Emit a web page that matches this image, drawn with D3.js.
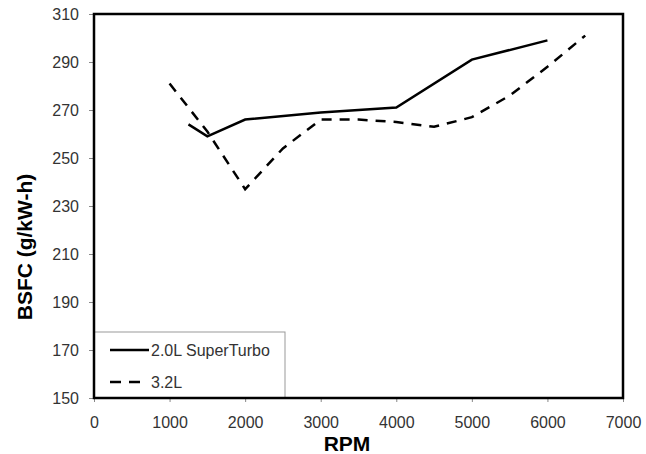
<!DOCTYPE html>
<html>
<head>
<meta charset="utf-8">
<script src="https://cdn.jsdelivr.net/npm/d3@7"></script>
<style>
  html, body { margin: 0; padding: 0; background: #fff; }
  svg { display: block; font-family: "Liberation Sans", Arial, sans-serif; }
</style>
</head>
<body>
<svg id="chart" width="646" height="454"></svg>
<script>
// Engine speed sample points and BSFC readings for each engine
const superTurboRpm = [1250, 1500, 2000, 3000, 4000, 5000, 6000];
const superTurboBsfc = [264, 259, 266, 269, 271, 291, 299];
const na32Rpm = [1000, 1500, 2000, 2500, 3000, 3500, 4000, 4500, 5000, 5500, 6000, 6500];
const na32Bsfc = [281, 261, 237, 254, 266, 266, 265, 263, 267, 276, 288, 301];

const seriesNames = ["2.0L SuperTurbo", "3.2L"];
const xTicks = [0, 1000, 2000, 3000, 4000, 5000, 6000, 7000];
const yTicks = [150, 170, 190, 210, 230, 250, 270, 290, 310];

const svg = d3.select("#chart");
const plot = { left: 94, right: 623, top: 14, bottom: 398 };

const x = d3.scaleLinear().domain([0, 7000]).range([plot.left, plot.right]);
const y = d3.scaleLinear().domain([150, 310]).range([plot.bottom, plot.top]);

// Axes
const xAxis = svg.append("g")
  .attr("transform", `translate(0,${plot.bottom})`)
  .call(d3.axisBottom(x).tickValues(xTicks).tickSize(4).tickPadding(15).tickFormat(d3.format("d")));
const yAxis = svg.append("g")
  .attr("transform", `translate(${plot.left},0)`)
  .call(d3.axisLeft(y).tickValues(yTicks).tickSize(5).tickPadding(10).tickFormat(d3.format("d")));

[xAxis, yAxis].forEach(g => {
  g.select(".domain").remove();
  g.selectAll(".tick line").attr("stroke", "#888").attr("stroke-width", 1);
  g.selectAll(".tick text")
    .attr("fill", "#333")
    .style("font-size", "16px")
    .style("font-family", "'Liberation Sans', Arial, sans-serif");
});

// Legend box (lower-left corner of the plot)
const legend = svg.append("g");
legend.append("rect")
  .attr("x", plot.left).attr("y", 332)
  .attr("width", 285 - plot.left).attr("height", plot.bottom - 332)
  .attr("fill", "#fff").attr("stroke", "#999").attr("stroke-width", 1);

const legendRows = [
  { name: seriesNames[0], dash: null, y: 350 },
  { name: seriesNames[1], dash: "11,8", y: 382 }
];
legendRows.forEach(r => {
  legend.append("line")
    .attr("x1", 110).attr("x2", r.dash ? 140 : 149)
    .attr("y1", r.y).attr("y2", r.y)
    .attr("stroke", "#000").attr("stroke-width", 2.5)
    .attr("stroke-dasharray", r.dash);
  legend.append("text")
    .attr("x", 151).attr("y", r.y + 6)
    .attr("fill", "#333")
    .style("font-size", "16px")
    .text(r.name);
});

// Series lines
const line = d3.line().x(d => x(d[0])).y(d => y(d[1]));

svg.append("path")
  .datum(d3.zip(superTurboRpm, superTurboBsfc))
  .attr("d", line)
  .attr("fill", "none").attr("stroke", "#000").attr("stroke-width", 2.5)
  .attr("stroke-linejoin", "miter");

svg.append("path")
  .datum(d3.zip(na32Rpm, na32Bsfc))
  .attr("d", line)
  .attr("fill", "none").attr("stroke", "#000").attr("stroke-width", 2.5)
  .attr("stroke-dasharray", "10,8");

// Plot frame
svg.append("rect")
  .attr("x", plot.left).attr("y", plot.top)
  .attr("width", plot.right - plot.left).attr("height", plot.bottom - plot.top)
  .attr("fill", "none").attr("stroke", "#000").attr("stroke-width", 2.5);

// Axis titles
svg.append("text")
  .attr("x", 347).attr("y", 451)
  .attr("text-anchor", "middle")
  .style("font-size", "21px").style("font-weight", "bold")
  .text("RPM");

svg.append("text")
  .attr("transform", "translate(32,247) rotate(-90)")
  .attr("text-anchor", "middle")
  .style("font-size", "21px").style("font-weight", "bold")
  .text("BSFC (g/kW-h)");
</script>
</body>
</html>
